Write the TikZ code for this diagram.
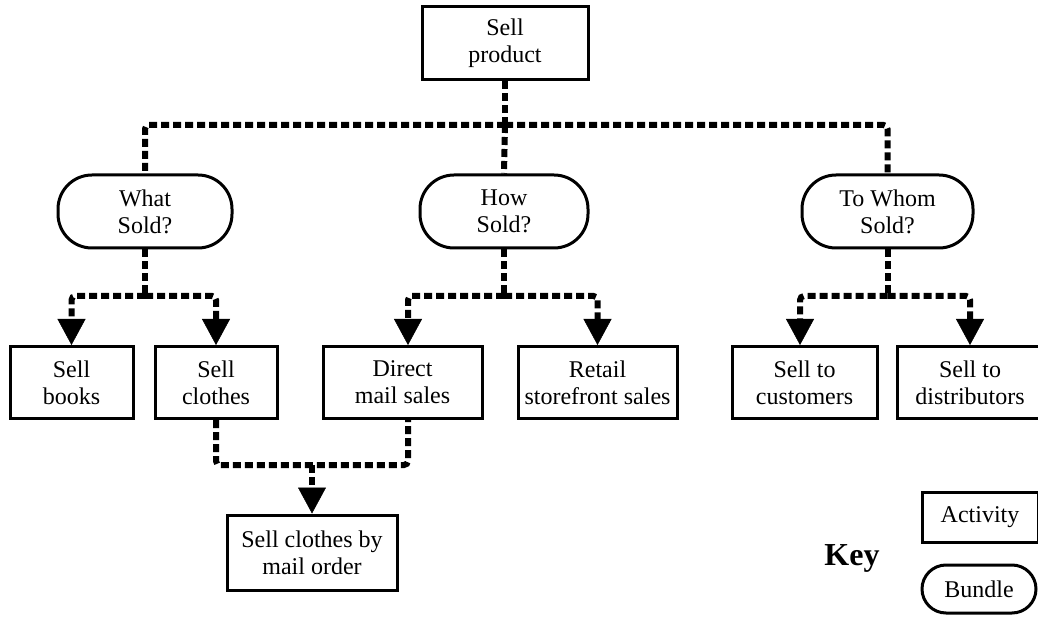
\documentclass[tikz,border=0pt]{standalone}
\usepackage{fontspec}
\setmainfont{Liberation Serif}
\usetikzlibrary{arrows.meta}
\begin{document}
\begin{tikzpicture}[x=1pt,y=-1pt,
  every node/.style={font=\fontsize{24}{27}\selectfont, align=center, inner sep=0pt},
  activity/.style={draw, line width=3pt, minimum height=72pt},
  bundle/.style={draw, line width=3pt, rounded corners=34pt, minimum height=73pt},
  dl/.style={line width=6pt, dash pattern=on 8pt off 4pt, rounded corners=4pt},
  arr/.style={-{Triangle[width=28pt,length=26pt,line width=0.5pt]}}]
\useasboundingbox (0,0) rectangle (1038,617);

% top activity
\node[activity, minimum width=166pt, minimum height=73pt] (sp) at (505,43.5) {Sell\\product};

% bundles
\node[bundle, minimum width=174pt] (what) at (145,211.5) {What\\Sold?};
\node[bundle, minimum width=168pt] (how)  at (504,211.5) {How\\Sold?};
\node[bundle, minimum width=171pt] (whom) at (887.5,211.5) {To Whom\\Sold?};

% second row of activities
\node[activity, minimum width=123pt] (books)   at (71.5,382.5)  {Sell\\books};
\node[activity, minimum width=122pt] (clothes) at (216,382.5)   {Sell\\clothes};
\node[activity, minimum width=159pt] (direct)  at (402.5,382.5) {Direct\\mail sales};
\node[activity, minimum width=159pt] (retail)  at (597.5,382.5) {Retail\\storefront sales};
\node[activity, minimum width=145pt] (cust)    at (804.5,382.5) {Sell to\\customers};
\node[activity, minimum width=146pt] (dist)    at (970,382.5)   {Sell to\\distributors};

% combined activity
\node[activity, minimum width=170pt, minimum height=75pt] (mail) at (312,552.5) {Sell clothes by\\mail order};

% key
\node[font=\fontsize{32}{34}\bfseries] (key) at (852,558) {Key};
\node[activity, minimum width=116pt, minimum height=50pt] (kact) at (980,517) {Activity};
\node[bundle, rounded corners=24pt, minimum width=114pt, minimum height=48pt] (kbun) at (979,589) {Bundle};

% junction points
\coordinate (b0) at (505,125);
\coordinate (b1) at (145,296);
\coordinate (b2) at (504,296);
\coordinate (b3) at (887.5,296);
\coordinate (b4) at (312,465);

% product to bundles
\draw[dl] (sp.south) -- (b0);
\draw[dl] (b0) -| (what.north);
\draw[dl] (b0) -- (how.north);
\draw[dl] (b0) -| (whom.north);

% bundles to activities
\draw[dl] (what.south) -- (b1);
\draw[dl,arr] (b1) -| (books.north);
\draw[dl,arr] (b1) -| (clothes.north);
\draw[dl] (how.south) -- (b2);
\draw[dl,arr] (b2) -| ([xshift=5.5pt]direct.north);
\draw[dl,arr] (b2) -| (retail.north);
\draw[dl] (whom.south) -- (b3);
\draw[dl,arr] (b3) -| ([xshift=-4.5pt]cust.north);
\draw[dl,arr] (b3) -| (dist.north);

% clothes and mail sales combine
\draw[dl] (clothes.south) |- (b4) -| ([xshift=5.5pt]direct.south);
\draw[dl,arr] (b4) -- (mail.north);
\end{tikzpicture}
\end{document}
